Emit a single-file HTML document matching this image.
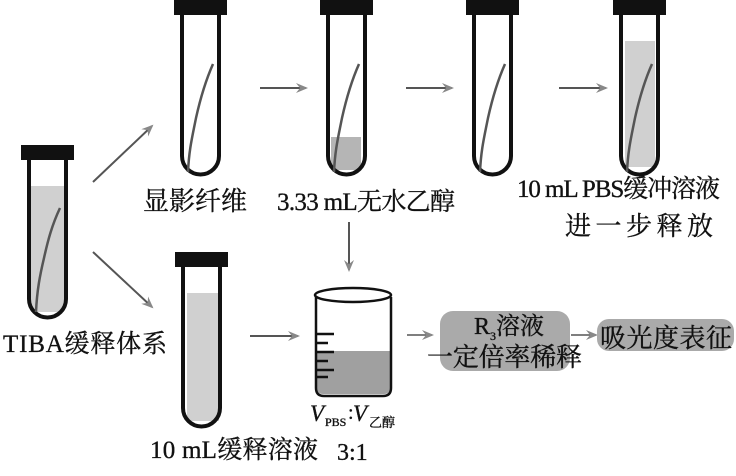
<!DOCTYPE html>
<html><head><meta charset="utf-8"><style>
html,body{margin:0;padding:0;background:#fff;}
svg{display:block;}
text{font-family:"Liberation Serif","Noto Serif CJK SC","Noto Sans CJK SC",serif;fill:#111;stroke:#111;stroke-width:0.35;}
</style></head><body>
<svg width="736" height="476" viewBox="0 0 736 476" xmlns="http://www.w3.org/2000/svg">
<defs>
<marker id="ah" markerWidth="12" markerHeight="10" refX="10" refY="5" orient="auto" markerUnits="userSpaceOnUse">
<path d="M0,0 L12,5 L0,10 L4,5 Z" fill="#888"/>
</marker>
</defs>
<g stroke="#111" stroke-width="4" fill="none">
<rect x="31" y="186" width="33" height="126" fill="#d0d0d0" stroke="none"/>
<path d="M29,160 V299 A18.5,18.5 0 0 0 66,299 V160"/>
<path d="M60,208 C52,225 48,240 44,258 C40,275 37,290 36,312" stroke="#555" stroke-width="2.5"/>
<path d="M182,14 V156 A18.5,18.5 0 0 0 219,156 V14"/>
<path d="M213,64 C205,82 200,100 196,118 C192,138 189,150 188,172" stroke="#555" stroke-width="2.5"/>
<rect x="331" y="137" width="30" height="33" fill="#b5b5b5" stroke="none"/>
<path d="M328,14 V156 A18.5,18.5 0 0 0 365,156 V14"/>
<path d="M359,64 C351,82 346,100 342,118 C338,138 335,150 334,172" stroke="#555" stroke-width="2.5"/>
<path d="M474,14 V156 A18.5,18.5 0 0 0 511,156 V14"/>
<path d="M505,64 C497,82 492,100 488,118 C484,138 481,150 480,172" stroke="#555" stroke-width="2.5"/>
<rect x="625" y="41" width="30" height="126" fill="#d0d0d0" stroke="none"/>
<path d="M621,14 V156 A18.5,18.5 0 0 0 658,156 V14"/>
<path d="M652,64 C644,82 639,100 635,118 C631,138 628,150 627,172" stroke="#555" stroke-width="2.5"/>
<rect x="187" y="293" width="32" height="128" fill="#d0d0d0" stroke="none"/>
<path d="M183,266 V408 A18.5,18.5 0 0 0 220,408 V266"/>
</g>
<g fill="#111">
<rect x="21" y="145" width="53" height="15"/>
<rect x="174" y="0" width="53" height="15"/>
<rect x="320" y="0" width="53" height="15"/>
<rect x="466" y="0" width="53" height="15"/>
<rect x="613" y="0" width="53" height="15"/>
<rect x="175" y="252" width="53" height="15"/>
</g>
<path d="M317,351 H390 V388 Q390,394 384,394 H323 Q317,394 317,388 Z" fill="#a0a0a0"/>
<g stroke="#111" stroke-width="2.5" fill="none">
<ellipse cx="353" cy="295" rx="38" ry="7"/>
<path d="M316,297 V388 Q316,396 324,396 H383 Q391,396 391,388 V297"/>
<path d="M316,334 H334 M316,343 H328 M316,352 H334 M316,361 H328 M316,370 H334 M316,377 H328"/>
</g>
<g stroke="#555" stroke-width="2" fill="none" marker-end="url(#ah)">
<line x1="93" y1="182" x2="152" y2="126"/>
<line x1="93" y1="252" x2="152" y2="307"/>
<line x1="260" y1="88" x2="306" y2="88"/>
<line x1="406" y1="88" x2="452" y2="88"/>
<line x1="559" y1="88" x2="606" y2="88"/>
<line x1="349" y1="222" x2="349" y2="270"/>
<line x1="250" y1="336" x2="298" y2="336"/>
<line x1="407" y1="335" x2="432" y2="335" stroke-width="1.5"/>
<line x1="571" y1="335" x2="596" y2="335" stroke-width="1.5"/>
</g>
<rect x="440" y="311" width="130" height="60" rx="13" fill="#aaa"/>
<rect x="597" y="319" width="137" height="32" rx="12" fill="#aaa"/>
<text x="143" y="210" font-size="26" textLength="104">显影纤维</text>
<text x="277" y="210" font-size="25" textLength="178">3.33 mL无水乙醇</text>
<text x="517" y="197" font-size="25" textLength="203">10 mL PBS缓冲溶液</text>
<text x="565" y="235" font-size="26" textLength="148">进一步释放</text>
<text x="3" y="352" font-size="25" textLength="164">TIBA缓释体系</text>
<text x="150" y="458" font-size="25" textLength="168">10 mL缓释溶液</text>
<text x="474" y="334" font-size="24">R<tspan font-size="12" dy="6">3</tspan><tspan dy="-6">溶液</tspan></text>
<text x="427" y="366" font-size="26" textLength="155">一定倍率稀释</text>
<text x="600" y="347" font-size="26" textLength="132">吸光度表征</text>
<text x="310" y="421" font-size="23" font-style="italic">V</text>
<text x="325" y="426" font-size="12">PBS</text>
<text x="348" y="419" font-size="20">:</text>
<text x="353" y="421" font-size="23" font-style="italic">V</text>
<text x="369" y="427" font-size="13" font-family="Liberation Sans,'Noto Sans CJK SC',sans-serif">乙醇</text>
<text x="337" y="460" font-size="24">3:1</text>
</svg>
</body></html>
